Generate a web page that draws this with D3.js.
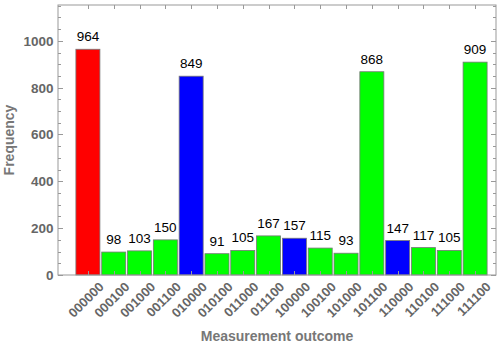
<!DOCTYPE html>
<html>
<head>
<meta charset="utf-8">
<script src="https://cdn.jsdelivr.net/npm/d3@7"></script>
<style>
  body { margin: 0; background: #fff; }
  svg { display: block; font-family: "Liberation Sans", Arial, sans-serif; }
</style>
</head>
<body>
<svg width="498" height="345"></svg>
<script>
// the data
let outcomes = ["000000", "000100", "001000", "001100", "010000", "010100", "011000", "011100",
                "100000", "100100", "101000", "101100", "110000", "110100", "111000", "111100"];
let counts = [964, 98, 103, 150, 849, 91, 105, 167, 157, 115, 93, 868, 147, 117, 105, 909];
let barColors = ["red", "lime", "lime", "lime", "blue", "lime", "lime", "lime",
                 "blue", "lime", "lime", "lime", "blue", "lime", "lime", "lime"];
let yTicks = [0, 200, 400, 600, 800, 1000];

let svg = d3.select("svg");

// frame of the plot area
let frame = { left: 58, right: 496, top: 5, bottom: 275 };

let x = d3.scaleBand()
  .domain(outcomes)
  .range([75, 488])
  .paddingInner(0.07)
  .paddingOuter(0.035);

let y = d3.scaleLinear()
  .domain([0, 1153])
  .range([frame.bottom, frame.top]);

let minorTicks = d3.range(0, 1151, 50);

// bars
svg.append("g").selectAll("rect")
  .data(counts)
  .join("rect")
  .attr("x", (d, i) => x(outcomes[i]))
  .attr("width", x.bandwidth())
  .attr("y", d => y(d))
  .attr("height", d => y(0) - y(d))
  .attr("fill", (d, i) => barColors[i])
  .attr("stroke", "#777")
  .attr("stroke-width", 0.8);

// value labels above the bars
svg.append("g").selectAll("text")
  .data(counts)
  .join("text")
  .attr("x", (d, i) => x(outcomes[i]) + x.bandwidth() / 2)
  .attr("y", d => y(d) - 8)
  .attr("text-anchor", "middle")
  .attr("font-size", 13.5)
  .attr("fill", "#000")
  .text(d => d);

// the frame, ticks point inward like mathematica does
let tickColor = "#999";
let axes = svg.append("g").attr("stroke", tickColor).attr("stroke-width", 1);

axes.append("rect")
  .attr("x", frame.left)
  .attr("y", frame.top)
  .attr("width", frame.right - frame.left)
  .attr("height", frame.bottom - frame.top)
  .attr("fill", "none");

// left + right ticks
minorTicks.forEach(v => {
  let len = v % 200 === 0 ? 5 : 3;
  let py = Math.round(y(v)) + 0.5;
  axes.append("line").attr("x1", frame.left).attr("x2", frame.left + len).attr("y1", py).attr("y2", py);
  axes.append("line").attr("x1", frame.right).attr("x2", frame.right - len).attr("y1", py).attr("y2", py);
});

// top + bottom ticks at bar centres
outcomes.forEach(o => {
  let px = Math.round(x(o) + x.bandwidth() / 2) + 0.5;
  axes.append("line").attr("x1", px).attr("x2", px).attr("y1", frame.bottom).attr("y2", frame.bottom - 4);
  axes.append("line").attr("x1", px).attr("x2", px).attr("y1", frame.top).attr("y2", frame.top + 4);
});

// y tick labels
svg.append("g").selectAll("text")
  .data(yTicks)
  .join("text")
  .attr("x", frame.left - 4.5)
  .attr("y", d => y(d))
  .attr("dy", "0.36em")
  .attr("text-anchor", "end")
  .attr("font-size", 13.5)
  .attr("font-weight", "bold")
  .attr("fill", "#666")
  .text(d => d);

// x tick labels, rotated
svg.append("g").selectAll("text")
  .data(outcomes)
  .join("text")
  .attr("transform", d => "translate(" + (x(d) + x.bandwidth() / 2 + 10) + "," + (frame.bottom + 6) + ") rotate(-45)")
  .attr("text-anchor", "end")
  .attr("dy", "0.72em")
  .attr("font-size", 13)
  .attr("font-weight", "bold")
  .attr("fill", "#666")
  .text(d => d);

// axis titles
svg.append("text")
  .attr("transform", "translate(14," + ((frame.top + frame.bottom) / 2) + ") rotate(-90)")
  .attr("text-anchor", "middle")
  .attr("font-size", 14)
  .attr("font-weight", "bold")
  .attr("fill", "#777")
  .text("Frequency");

svg.append("text")
  .attr("x", (frame.left + frame.right) / 2)
  .attr("y", 341)
  .attr("text-anchor", "middle")
  .attr("font-size", 14)
  .attr("font-weight", "bold")
  .attr("fill", "#777")
  .text("Measurement outcome");
</script>
</body>
</html>
